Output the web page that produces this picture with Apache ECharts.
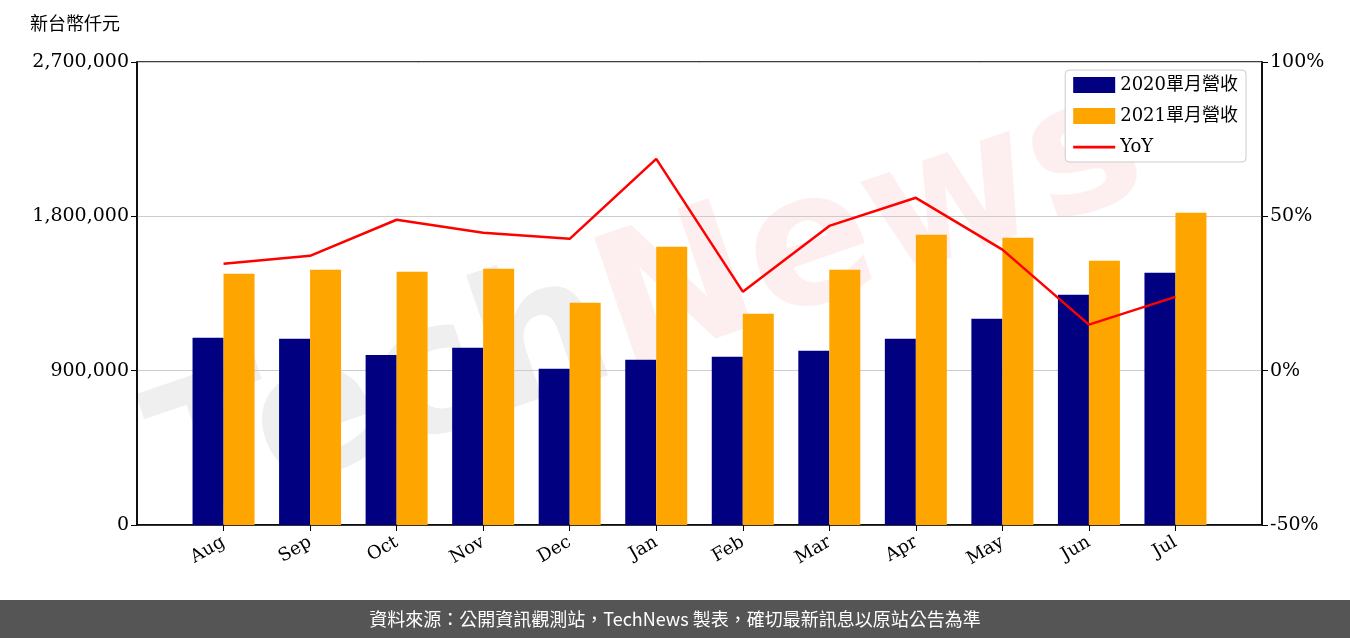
<!DOCTYPE html>
<html><head><meta charset="utf-8">
<script src="https://cdn.jsdelivr.net/npm/echarts@6/dist/echarts.min.js"></script>
<style>body{margin:0;background:#fff}#c{width:1350px;height:638px}</style></head>
<body><div id="c"></div>
<script>
const categories=['Aug','Sep','Oct','Nov','Dec','Jan','Feb','Mar','Apr','May','Jun','Jul'];
const rev2020=[1092000,1086000,992000,1033000,911000,963000,981000,1016000,1086000,1203000,1343000,1471000];
const rev2021=[1465000,1489000,1477000,1494000,1296000,1623000,1232000,1489000,1693000,1675000,1541000,1821000];
const yoy=[34.6,37.2,48.9,44.7,42.7,68.6,25.6,46.9,56.0,39.2,14.9,23.9];
const f="'DejaVu Serif','Noto Sans CJK TC',serif";
const idx=categories.map((_,i)=>i);
const pair=a=>a.map((v,i)=>[i,v]);
const ch=echarts.init(document.getElementById('c'));
ch.setOption({
 animation:false,
 grid:{left:137,right:88,top:62,bottom:113,show:true,borderColor:'#000',borderWidth:1.5},
 graphic:[
  {type:'text',left:30,top:14,style:{text:'新台幣仟元',font:"18px 'Noto Sans CJK TC'",fill:'#000'}},
  {type:'text',x:650,y:310,rotation:0.33,style:{text:'{a|Tech}{b|News}',rich:{a:{font:"bold 185px 'DejaVu Sans'",fill:'rgba(150,150,150,0.15)'},b:{font:"bold 185px 'DejaVu Sans'",fill:'rgba(235,110,110,0.11)'}},align:'center',verticalAlign:'middle'},z:-1},
  {type:'rect',shape:{x:0,y:600,width:1350,height:38},style:{fill:'#555'}},
  {type:'text',x:675,y:619,style:{text:'資料來源：公開資訊觀測站，TechNews 製表，確切最新訊息以原站公告為準',font:"18px 'Noto Sans CJK TC'",fill:'#fff',align:'center',verticalAlign:'middle'}}
 ],
 legend:{right:104,top:70,orient:'vertical',itemWidth:42,itemHeight:16,itemGap:13,padding:[6,8],borderColor:'#ccc',borderWidth:1,borderRadius:4,backgroundColor:'#fff',
  textStyle:{fontFamily:f,fontSize:18,color:'#000'},
  data:[{name:'2020單月營收',icon:'rect'},{name:'2021單月營收',icon:'rect'},{name:'YoY',icon:'path://M0,0M0,6.8h42v2.6h-42zM42,16'}]},
 xAxis:{type:'value',min:-1,max:12,axisLine:{onZero:false,lineStyle:{color:'#000',width:1.5}},splitLine:{show:false},
  axisTick:{show:true,customValues:idx,length:6,lineStyle:{color:'#000'}},
  axisLabel:{customValues:idx,rotate:30,fontFamily:f,fontSize:18,color:'#000',margin:16,formatter:v=>categories[Math.round(v)]||''}},
 yAxis:[
  {type:'value',min:0,max:2700000,interval:900000,axisLine:{show:true,onZero:false,lineStyle:{color:'#000',width:1.5}},axisTick:{show:true,length:6,lineStyle:{color:'#000'}},
   splitLine:{lineStyle:{color:'#ccc'}},axisLabel:{fontFamily:f,fontSize:19,color:'#000',formatter:v=>v.toLocaleString('en-US')}},
  {type:'value',min:-50,max:100,interval:50,axisLine:{show:true,onZero:false,lineStyle:{color:'#000',width:1.5}},axisTick:{show:true,length:6,lineStyle:{color:'#000'}},
   splitLine:{show:false},axisLabel:{fontFamily:f,fontSize:19,color:'#000',formatter:'{value}%'}}
 ],
 series:[
  {name:'2020單月營收',type:'bar',data:pair(rev2020),barWidth:31,barGap:'0%',itemStyle:{color:'#000080'}},
  {name:'2021單月營收',type:'bar',data:pair(rev2021),barWidth:31,itemStyle:{color:'#FFA500'}},
  {name:'YoY',type:'line',yAxisIndex:1,data:pair(yoy),symbol:'none',lineStyle:{color:'red',width:2.5},itemStyle:{color:'red'}}
 ]
});
</script></body></html>
